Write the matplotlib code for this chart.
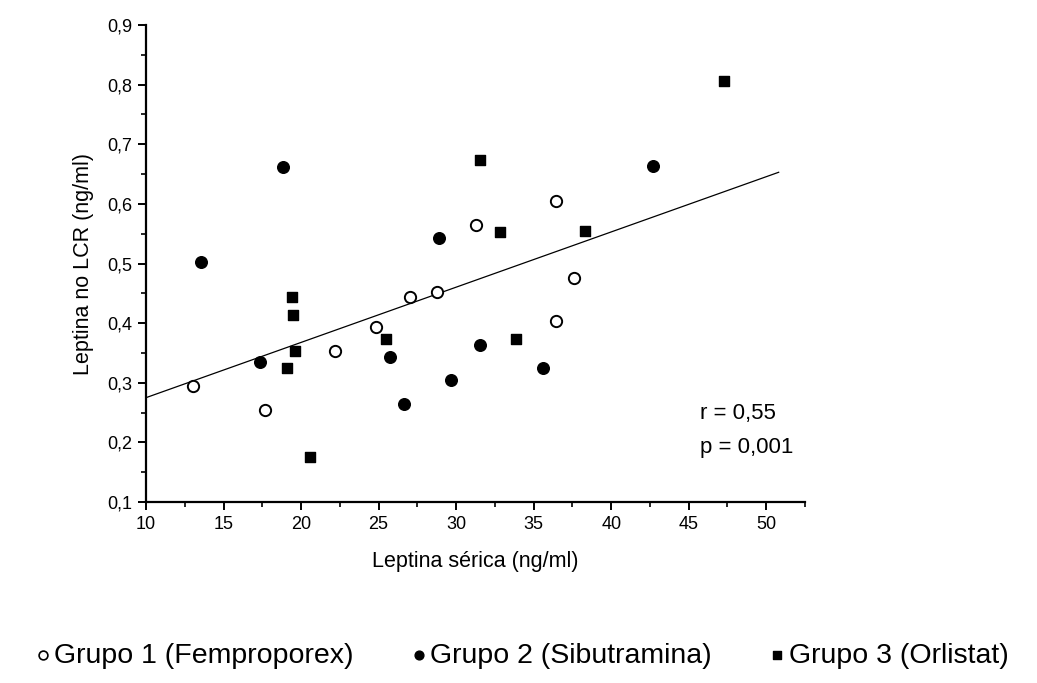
import numpy as np
import matplotlib.pyplot as plt
from matplotlib import font_manager
from matplotlib.ticker import MultipleLocator, FuncFormatter

# Grupo 1 (Femproporex) - open circles
g1_x = [13.05, 17.68, 22.17, 24.84, 27.03, 28.75, 31.29, 36.43, 36.45, 37.57]
g1_y = [0.294, 0.254, 0.354, 0.394, 0.443, 0.453, 0.564, 0.604, 0.404, 0.475]

# Grupo 2 (Sibutramina) - filled circles
g2_x = [13.57, 18.86, 17.35, 25.74, 26.66, 28.9, 29.66, 31.55, 35.57, 42.7]
g2_y = [0.503, 0.662, 0.334, 0.344, 0.264, 0.543, 0.305, 0.364, 0.325, 0.664]

# Grupo 3 (Orlistat) - filled squares
g3_x = [19.1, 19.4, 19.46, 19.63, 20.6, 25.46, 31.55, 32.8, 33.85, 38.3, 47.3]
g3_y = [0.324, 0.443, 0.413, 0.353, 0.175, 0.373, 0.674, 0.553, 0.374, 0.554, 0.806]

# regression line end points
fit_x = [10, 50.8]
fit_y = [0.275, 0.653]

labels = ['Grupo 1 (Femproporex)', 'Grupo 2 (Sibutramina)', 'Grupo 3 (Orlistat)']


def pick_font(names):
    for n in names:
        try:
            font_manager.findfont(n, fallback_to_default=False)
            return n
        except Exception:
            pass
    return 'DejaVu Sans'


main_font = pick_font(['Liberation Sans', 'Arial', 'DejaVu Sans'])
plt.rcParams['font.family'] = main_font

fig = plt.figure(figsize=(10.37, 6.83), dpi=100)
ax = fig.add_axes([0.1408, 0.265, 0.6355, 0.6984])

ax.plot(fit_x, fit_y, color='black', linewidth=0.9, zorder=1)
ax.scatter(g1_x, g1_y, s=66, facecolors='white', edgecolors='black', linewidths=1.4, zorder=3)
ax.scatter(g2_x, g2_y, s=70, marker='o', color='black', zorder=3)
ax.scatter(g3_x, g3_y, s=56, marker='s', color='black', zorder=3)

ax.set_xlim(10, 52.5)
ax.set_ylim(0.1, 0.9)
ax.xaxis.set_major_locator(MultipleLocator(5))
ax.xaxis.set_minor_locator(MultipleLocator(2.5))
ax.yaxis.set_major_locator(MultipleLocator(0.1))
ax.yaxis.set_minor_locator(MultipleLocator(0.05))
ax.yaxis.set_major_formatter(FuncFormatter(lambda v, p: ('%.1f' % v).replace('.', ',')))

for side in ['top', 'right']:
    ax.spines[side].set_visible(False)
for side in ['left', 'bottom']:
    ax.spines[side].set_linewidth(1.6)
ax.tick_params(which='major', direction='out', length=6, width=1.4, labelsize=13, pad=4)
ax.tick_params(which='minor', direction='out', length=3.5, width=1.2)

ax.set_xlabel('Leptina sérica (ng/ml)', fontsize=15.5, labelpad=13)
ax.set_ylabel('Leptina no LCR (ng/ml)', fontsize=15.5, labelpad=9)

ax.text(45.7, 0.248, 'r = 0,55', fontsize=16, va='center', ha='left')
ax.text(45.7, 0.191, 'p = 0,001', fontsize=16, va='center', ha='left')

# bottom legend
h1 = ax.scatter([], [], s=40, facecolors='white', edgecolors='black', linewidths=1.2)
h2 = ax.scatter([], [], s=40, marker='o', color='black')
h3 = ax.scatter([], [], s=40, marker='s', color='black')
fig.legend([h1, h2, h3], labels, loc='center', bbox_to_anchor=(0.5, 0.04), ncol=3,
           frameon=False, handletextpad=-0.1, columnspacing=1.8, handlelength=1.0,
           prop={'family': main_font, 'size': 20.5})

fig.savefig('out.png', dpi=100)
